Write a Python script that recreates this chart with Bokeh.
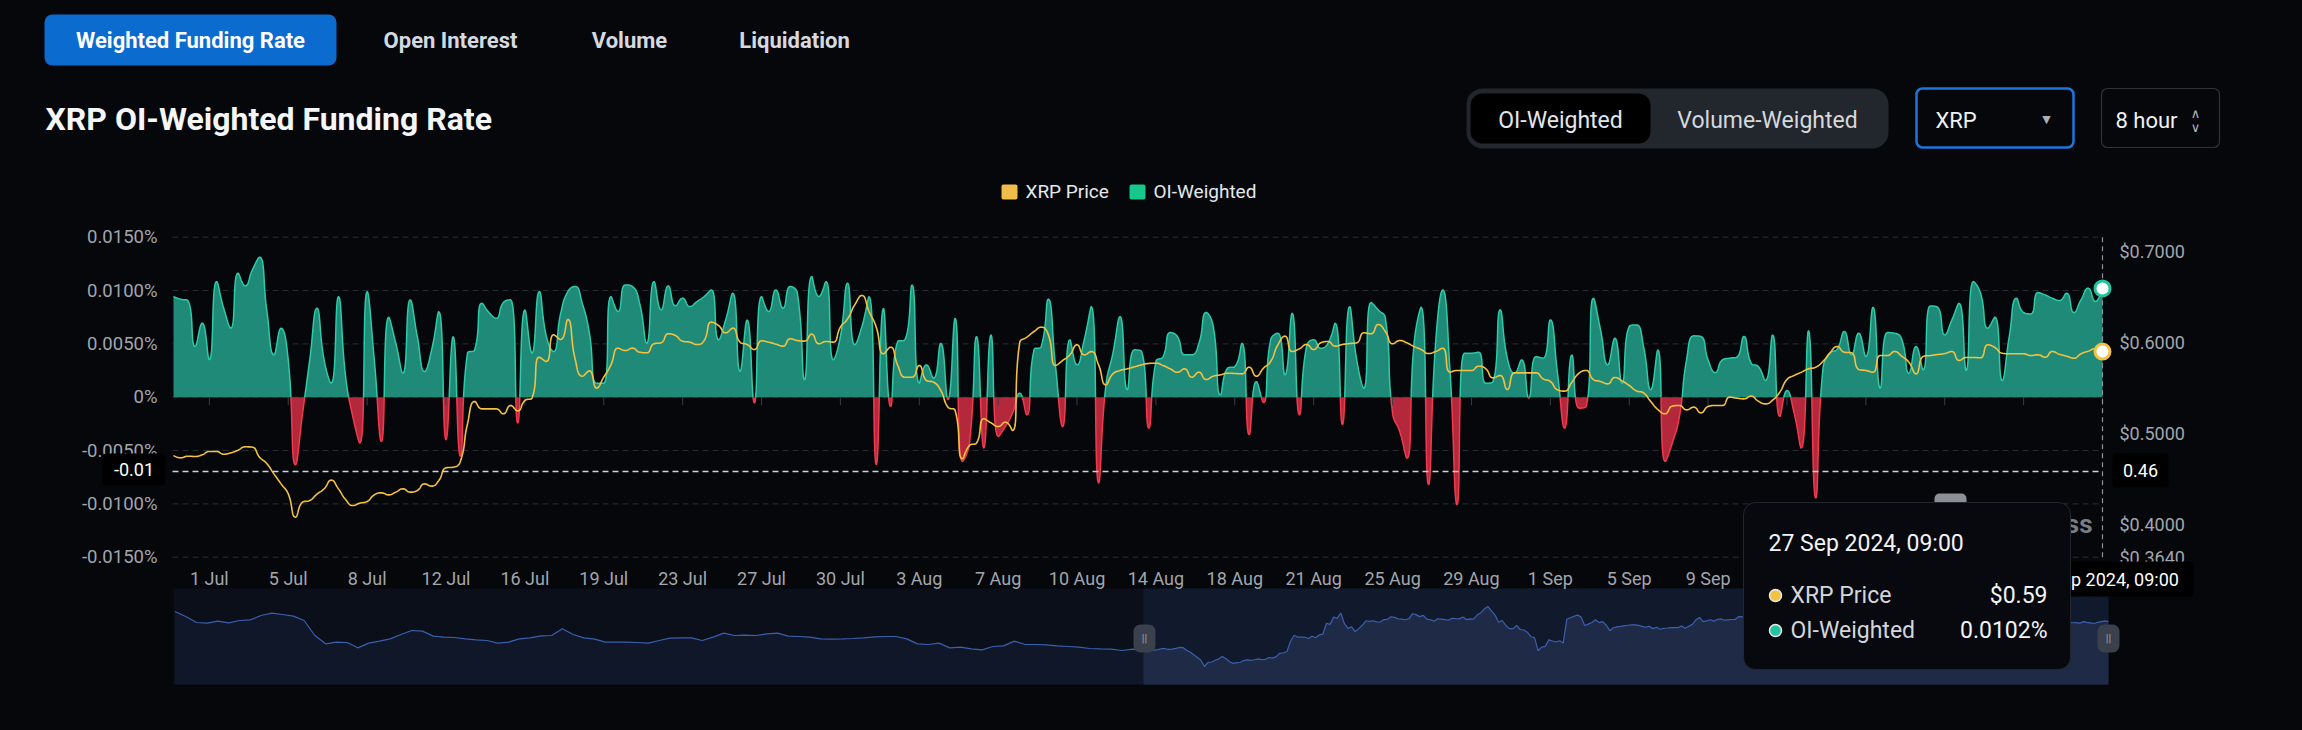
import math
from datetime import datetime, timedelta
import numpy as np
from bokeh.plotting import figure
from bokeh.models import (Range1d, LinearAxis, FixedTicker, Label, BoxAnnotation,
                          GlobalInlineStyleSheet)
from bokeh.embed import file_html
from bokeh.resources import INLINE

# ---------------- data ----------------
start_time = datetime(2024, 6, 29, 17, 0)
step_hours = 8

funding_rate = [
    0.00944, 0.00919, 0.00906, 0.00475, 0.00694, 0.00350, 0.01084, 0.00834, 0.00647, 0.01163,
    0.01044, 0.01194, 0.01313, 0.00819, 0.00397, 0.00647, 0.00350, -0.00634, -0.00150, 0.00350,
    0.00834, 0.00350, 0.00131, 0.00944, 0.00194, -0.00181, -0.00431, 0.00991, 0.00350, -0.00416,
    0.00750, 0.00506, 0.00225, 0.00913, 0.00569, 0.00241, 0.00444, 0.00803, -0.00400, 0.00569,
    -0.00556, 0.00413, 0.00444, 0.00881, 0.00794, 0.00741, 0.00888, 0.00913, -0.00244, 0.00819,
    0.00413, 0.00991, 0.00569, 0.00428, 0.00788, 0.00991, 0.01038, 0.00881, 0.00600, 0.00131,
    0.00131, 0.00944, 0.00803, 0.01053, 0.01038, 0.00881, 0.00506, 0.01084, 0.00819, 0.01044,
    0.00856, 0.00928, 0.00850, 0.00897, 0.00944, 0.01006, 0.00538, 0.00725, 0.00975, 0.00241,
    0.00725, -0.00056, 0.00944, 0.00803, 0.01006, 0.00834, 0.01038, 0.00975, 0.00163, 0.01131,
    0.00944, 0.01084, 0.00350, 0.00569, 0.01069, 0.00491, 0.00663, 0.00944, -0.00634, 0.00834,
    -0.00088, 0.00522, 0.00538, 0.01053, 0.00131, 0.00303, 0.00178, 0.00506, -0.00025, 0.00741,
    -0.00603, -0.00431, 0.00569, -0.00478, 0.00584, -0.00369, -0.00275, -0.00150, 0.00038, -0.00166,
    0.00444, 0.00475, 0.00919, 0.00288, -0.00275, 0.00538, 0.00303, 0.00538, 0.00850, -0.00806,
    0.00100, 0.00413, 0.00756, 0.00069, 0.00444, 0.00428, -0.00291, 0.00334, 0.00381, 0.00606,
    0.00569, 0.00397, 0.00397, 0.00506, 0.00794, 0.00663, 0.00022, 0.00272, 0.00288, 0.00506,
    -0.00353, 0.00147, -0.00050, 0.00538, 0.00600, 0.00209, 0.00788, -0.00166, 0.00475, 0.00538,
    0.00459, 0.00506, 0.00694, -0.00259, 0.00850, 0.00350, 0.00084, 0.00888, 0.00819, 0.00741,
    -0.00150, -0.00322, -0.00572, 0.00506, 0.00844, -0.00822, 0.00506, 0.01006, 0.00256, -0.01009,
    0.00413, 0.00413, 0.00422, 0.00131, 0.00147, 0.00819, 0.00366, 0.00225, 0.00350, -0.00009,
    0.00381, 0.00366, 0.00725, 0.00225, -0.00291, 0.00397, -0.00103, -0.00088, 0.00928, 0.00631,
    0.00303, 0.00553, 0.00131, 0.00663, 0.00678, 0.00475, 0.00069, 0.00444, -0.00603, -0.00431,
    -0.00181, 0.00350, 0.00575, 0.00569, 0.00350, 0.00231, 0.00350, 0.00366, 0.00375, 0.00569,
    0.00319, 0.00288, 0.00156, 0.00584, -0.00181, 0.00063, -0.00150, -0.00478, 0.00625, -0.00947,
    0.00256, 0.00413, 0.00450, 0.00616, 0.00397, 0.00600, 0.00381, 0.00844, 0.00084, 0.00606,
    0.00600, 0.00544, 0.00225, 0.00475, 0.00256, 0.00856, 0.00844, 0.00584, 0.00725, 0.00881,
    0.00250, 0.01084, 0.00975, 0.00647, 0.00750, 0.00156, 0.00569, 0.00928, 0.00794, 0.00781,
    0.00981, 0.00959, 0.00928, 0.00906, 0.00975, 0.00794, 0.00913, 0.01022, 0.00897, 0.01020,
]

xrp_price = [
    0.4758, 0.4732, 0.4750, 0.4747, 0.4765, 0.4802, 0.4802, 0.4772, 0.4787, 0.4816,
    0.4853, 0.4849, 0.4739, 0.4670, 0.4556, 0.4446, 0.4336, 0.4080, 0.4245, 0.4263,
    0.4333, 0.4391, 0.4487, 0.4391, 0.4274, 0.4208, 0.4234, 0.4252, 0.4325, 0.4347,
    0.4325, 0.4355, 0.4391, 0.4355, 0.4373, 0.4446, 0.4421, 0.4483, 0.4622, 0.4629,
    0.4692, 0.5106, 0.5351, 0.5270, 0.5270, 0.5270, 0.5216, 0.5307, 0.5248, 0.5362,
    0.5391, 0.5838, 0.5791, 0.6084, 0.6032, 0.6252, 0.5820, 0.5629, 0.5688, 0.5498,
    0.5618, 0.5754, 0.5937, 0.5911, 0.5937, 0.5893, 0.5886, 0.5985, 0.5996, 0.6095,
    0.6076, 0.6014, 0.6003, 0.5977, 0.6021, 0.6223, 0.6186, 0.6106, 0.6157, 0.6003,
    0.5977, 0.5922, 0.6018, 0.6003, 0.5981, 0.5959, 0.6040, 0.6021, 0.6014, 0.6091,
    0.5985, 0.6010, 0.6003, 0.6168, 0.6259, 0.6413, 0.6516, 0.6340, 0.6168, 0.5875,
    0.5948, 0.5747, 0.5618, 0.5618, 0.5747, 0.5582, 0.5563, 0.5472, 0.5289, 0.5252,
    0.4721, 0.4867, 0.4897, 0.5161, 0.5117, 0.5076, 0.5124, 0.5032, 0.5996, 0.6058,
    0.6120, 0.6168, 0.6084, 0.5747, 0.5802, 0.5864, 0.5974, 0.5864, 0.5900, 0.5754,
    0.5534, 0.5655, 0.5692, 0.5710, 0.5732, 0.5754, 0.5769, 0.5772, 0.5747, 0.5710,
    0.5673, 0.5710, 0.5618, 0.5673, 0.5593, 0.5629, 0.5644, 0.5662, 0.5659, 0.5655,
    0.5728, 0.5629, 0.5717, 0.5791, 0.5974, 0.6069, 0.5900, 0.5930, 0.5977, 0.5922,
    0.5996, 0.6010, 0.5959, 0.5977, 0.5988, 0.5996, 0.6106, 0.6095, 0.6197, 0.6120,
    0.5985, 0.6021, 0.5996, 0.5955, 0.5922, 0.5878, 0.5900, 0.5937, 0.5673, 0.5692,
    0.5692, 0.5692, 0.5739, 0.5710, 0.5611, 0.5637, 0.5483, 0.5666, 0.5666, 0.5666,
    0.5666, 0.5600, 0.5571, 0.5479, 0.5465, 0.5563, 0.5662, 0.5692, 0.5593, 0.5571,
    0.5545, 0.5615, 0.5578, 0.5527, 0.5468, 0.5446, 0.5351, 0.5263, 0.5216, 0.5300,
    0.5307, 0.5259, 0.5289, 0.5226, 0.5296, 0.5307, 0.5307, 0.5399, 0.5388, 0.5380,
    0.5410, 0.5355, 0.5325, 0.5366, 0.5454, 0.5593, 0.5637, 0.5673, 0.5710, 0.5728,
    0.5791, 0.5886, 0.5955, 0.5893, 0.5886, 0.5703, 0.5692, 0.5673, 0.5856, 0.5856,
    0.5900, 0.5849, 0.5783, 0.5655, 0.5846, 0.5856, 0.5867, 0.5878, 0.5900, 0.5802,
    0.5835, 0.5835, 0.5831, 0.5974, 0.5944, 0.5882, 0.5875, 0.5875, 0.5875, 0.5856,
    0.5864, 0.5838, 0.5900, 0.5871, 0.5849, 0.5827, 0.5875, 0.5904, 0.5930, 0.5900,
]

# daily XRP price before the zoom window (navigator / data-zoom shadow)
history_price = [
    0.6313, 0.6110, 0.5866, 0.5839, 0.5921, 0.5853, 0.5948, 0.5975, 0.6151, 0.6245,
    0.6191, 0.6124, 0.5948, 0.5339, 0.5000, 0.5068, 0.5054, 0.4838, 0.5027, 0.5109,
    0.5203, 0.5379, 0.5542, 0.5515, 0.5312, 0.5271, 0.5257, 0.5203, 0.5163, 0.5136,
    0.5027, 0.5068, 0.5203, 0.5244, 0.5325, 0.5339, 0.5609, 0.5379, 0.5244, 0.5190,
    0.5068, 0.5068, 0.5068, 0.5054, 0.5027, 0.5136, 0.5230, 0.5244, 0.5244, 0.5136,
    0.5271, 0.5433, 0.5339, 0.5352, 0.5339, 0.5406, 0.5433, 0.5312, 0.5298, 0.5271,
    0.5203, 0.5190, 0.5203, 0.5217, 0.5244, 0.5284, 0.5298, 0.5298, 0.5203, 0.5000,
    0.4973, 0.5027, 0.4838, 0.4865, 0.4797, 0.4757, 0.4892, 0.4919, 0.5109, 0.4973,
    0.4973, 0.4960, 0.4919, 0.4892, 0.4865, 0.4811, 0.4797, 0.4784, 0.4730, 0.4784,
]

tick_labels = ["1 Jul", "5 Jul", "8 Jul", "12 Jul", "16 Jul", "19 Jul", "23 Jul", "27 Jul",
               "30 Jul", "3 Aug", "7 Aug", "10 Aug", "14 Aug", "18 Aug", "21 Aug", "25 Aug",
               "29 Aug", "1 Sep", "5 Sep", "9 Sep"]
tick_first, tick_every, tick_count = 5, 11, 25

funding_ticks = [-0.015, -0.01, -0.005, 0.0, 0.005, 0.01, 0.015]
funding_tick_labels = ["-0.0150%", "-0.0100%", "-0.0050%", "0%", "0.0050%", "0.0100%", "0.0150%"]
price_ticks = [0.364, 0.4, 0.5, 0.6, 0.7]
price_tick_labels = ["$0.3640", "$0.4000", "$0.5000", "$0.6000", "$0.7000"]

pointer_funding = -0.00697  # horizontal crosshair position

# ---------------- styling / geometry ----------------
FONT = "Roboto"
BG = "#05070b"
TEAL_FILL = "#1f8a77"
TEAL_LINE = "#2dcba7"
RED_FILL = "#b3283a"
RED_LINE = "#f2394f"
YELLOW = "#f4c141"
GRID = "#2a2d33"
TICK_TXT = "#a2a6ad"

W, H = 2302, 730
n = len(funding_rate)
idx = np.arange(n)
times = [start_time + timedelta(hours=step_hours * i) for i in range(n)]

X0 = 173.0                       # px of first sample
ppi = (2102.0 - X0) / (n - 1)    # px per sample
Y_TOP, Y_BOT = 236.7, 556.7      # px of +0.015 / -0.015
ppf = (Y_BOT - Y_TOP) / 0.03     # px per funding-% unit
ppp = 910.0                      # px per $ on price axis
mini_ppp, mini_ref_p, mini_ref_y = 246.3, 0.408, 666.0
mini_pph, mini_x0 = 0.4484, 1143.0
mini_base = mini_ref_p - (684.0 - mini_ref_y) / mini_ppp

p = figure(width=W, height=H, output_backend="svg", toolbar_location=None,
           x_range=Range1d(-X0 / ppi, (W - X0) / ppi),
           y_range=Range1d(funding_ticks[-1] - (H - Y_TOP) / ppf, funding_ticks[-1] + Y_TOP / ppf),
           min_border=0, min_border_left=0, min_border_right=0, min_border_top=0,
           min_border_bottom=0, background_fill_color=BG, border_fill_color=BG,
           outline_line_color=None)
p.stylesheets = [GlobalInlineStyleSheet(css="html, body { background-color: %s; }" % BG)]

p.extra_y_ranges = {
    "price": Range1d(price_ticks[0] - (H - Y_BOT) / ppp, price_ticks[0] + Y_BOT / ppp),
    "mini": Range1d(mini_ref_p - (H - mini_ref_y) / mini_ppp, mini_ref_p + mini_ref_y / mini_ppp),
    "px": Range1d(H, 0),
}
p.extra_x_ranges = {
    "mini": Range1d(-mini_x0 / mini_pph, (W - mini_x0) / mini_pph),
    "px": Range1d(0, W),
}
x_left_edge = (172.0 - X0) / ppi


def style_axis(ax, standoff):
    ax.axis_line_color = None
    ax.major_tick_line_color = None
    ax.minor_tick_line_color = None
    ax.major_tick_out = 0
    ax.major_tick_in = 0
    ax.minor_tick_out = 0
    ax.minor_tick_in = 0
    ax.major_label_standoff = standoff
    ax.major_label_text_color = TICK_TXT
    ax.major_label_text_font = FONT
    ax.major_label_text_font_size = "18.5px"


# left axis
yl = p.yaxis[0]
yl.ticker = FixedTicker(ticks=funding_ticks)
yl.major_label_overrides = dict(zip(funding_ticks, funding_tick_labels))
yl.fixed_location = x_left_edge
style_axis(yl, 15)

# right axis (price)
yr = LinearAxis(y_range_name="price", ticker=FixedTicker(ticks=price_ticks),
                major_label_overrides=dict(zip(price_ticks, price_tick_labels)))
yr.fixed_location = float(idx[-1])
style_axis(yr, 17)
yr.major_label_text_font_size = "18px"
p.add_layout(yr, "right")

# bottom axis with category-like labels
label_pos = [tick_first + tick_every * k for k in range(len(tick_labels))]
xa = p.xaxis[0]
xa.ticker = FixedTicker(ticks=label_pos)
xa.major_label_overrides = dict(zip(label_pos, tick_labels))
xa.fixed_location = funding_ticks[0]
style_axis(xa, 11)
xa.major_label_text_font_size = "18px"

p.xgrid.visible = False
p.ygrid.visible = False

# grid lines of the main panel
p.segment(x0=x_left_edge, y0=funding_ticks, x1=float(idx[-1]), y1=funding_ticks,
          line_color=GRID, line_dash="6 4", line_width=1)


# ---------------- helpers ----------------
def smooth_curve(xs, ys, kx, ky, smooth=0.5, nseg=14):
    X = np.asarray(xs, float) * kx
    Y = np.asarray(ys, float) * ky
    N = len(X)
    ox, oy = [X[0]], [Y[0]]
    c0x, c0y = X[0], Y[0]
    tt = np.linspace(0, 1, nseg + 1)[1:]
    a = 1 - tt
    for i in range(1, N):
        x, y = X[i], Y[i]
        px_, py_ = X[i - 1], Y[i - 1]
        if i == N - 1:
            c1x, c1y = x, y
            n0x, n0y = x, y
        else:
            nx, ny = X[i + 1], Y[i + 1]
            vx, vy = nx - px_, ny - py_
            d0 = math.hypot(x - px_, y - py_)
            d1 = math.hypot(nx - x, ny - y)
            r = d1 / (d0 + d1)
            n0x = x + vx * smooth * r
            n0y = y + vy * smooth * r
            n0x = min(max(n0x, min(nx, x)), max(nx, x))
            n0y = min(max(n0y, min(ny, y)), max(ny, y))
            vx, vy = n0x - x, n0y - y
            c1x = x - vx * d0 / d1
            c1y = y - vy * d0 / d1
            c1x = min(max(c1x, min(px_, x)), max(px_, x))
            c1y = min(max(c1y, min(py_, y)), max(py_, y))
            vx, vy = x - c1x, y - c1y
            n0x = x + vx * d1 / d0
            n0y = y + vy * d1 / d0
        bx = a ** 3 * px_ + 3 * a ** 2 * tt * c0x + 3 * a * tt ** 2 * c1x + tt ** 3 * x
        by = a ** 3 * py_ + 3 * a ** 2 * tt * c0y + 3 * a * tt ** 2 * c1y + tt ** 3 * y
        ox.extend(bx)
        oy.extend(by)
        c0x, c0y = n0x, n0y
    return np.array(ox) / kx, np.array(oy) / ky


def lab(x, y, text, size=18, color="#e6e8eb", bold=False, align="left",
        baseline="middle", font=FONT, level="annotation"):
    p.add_layout(Label(x=x, y=y, x_range_name="px", y_range_name="px", text=text,
                       text_font=font, text_font_size="%spx" % size, text_color=color,
                       text_font_style="bold" if bold else "normal", text_align=align,
                       text_baseline=baseline, level=level))


def box(x0, y0, x1, y1, fill, line=None, lw=1, radius=0, level="annotation", alpha=1.0):
    p.add_layout(BoxAnnotation(left=x0, right=x1, top=y0, bottom=y1, x_range_name="px",
                               y_range_name="px", fill_color=fill, fill_alpha=alpha,
                               line_color=line, line_alpha=1.0, line_width=lw,
                               border_radius=radius, level=level))


# ---------------- navigator (data zoom) ----------------
box(173, 588, 2108, 684, "#0a0f1a", level="underlay")
box(1143, 588, 2108, 684, "#111a2d", level="underlay")
t_main = idx * step_hours
t_hist = np.array([-24 * (len(history_price) - k) for k in range(len(history_price))])
hx = np.append(t_hist, t_main[0])
hy = np.append(history_price, xrp_price[0])
p.varea(x=hx, y1=mini_base, y2=hy, x_range_name="mini", y_range_name="mini",
        fill_color="#0f1728")
p.varea(x=t_main, y1=mini_base, y2=xrp_price, x_range_name="mini", y_range_name="mini",
        fill_color="#1e2a46")
p.line(np.concatenate([t_hist, t_main]), np.concatenate([history_price, xrp_price]),
       x_range_name="mini", y_range_name="mini", line_color="#3c5fae", line_width=1.2)

# ---------------- funding area (split at zero) ----------------
fx, fy = smooth_curve(idx, funding_rate, ppi, ppf)
X2, Y2 = [fx[0]], [fy[0]]
for j in range(1, len(fx)):
    if fy[j - 1] * fy[j] < 0:
        t = fy[j - 1] / (fy[j - 1] - fy[j])
        X2.append(fx[j - 1] + t * (fx[j] - fx[j - 1]))
        Y2.append(0.0)
    X2.append(fx[j])
    Y2.append(fy[j])
X2 = np.array(X2)
Y2 = np.array(Y2)
p.varea(x=X2, y1=0, y2=np.maximum(Y2, 0), fill_color=TEAL_FILL)
p.varea(x=X2, y1=0, y2=np.minimum(Y2, 0), fill_color=RED_FILL)
p.line(X2, np.where(Y2 >= 0, Y2, np.nan), line_color=TEAL_LINE, line_width=1.5)
p.line(X2, np.where(Y2 <= 0, Y2, np.nan), line_color=RED_LINE, line_width=1.5)

# axis ticks on the zero line
tick_all = [tick_first + tick_every * k for k in range(tick_count)]
p.segment(x0=tick_all, y0=0, x1=tick_all, y1=-8.0 / ppf, line_color="#3b3e45", line_width=1)

# ---------------- price line ----------------
sx, sy = smooth_curve(idx, xrp_price, ppi, ppp)
p.line(sx, sy, y_range_name="price", line_color=YELLOW, line_width=1.6)

# ---------------- axis pointer ----------------
last = n - 1
p.segment(x0=x_left_edge, y0=pointer_funding, x1=float(idx[last]), y1=pointer_funding,
          line_color="#cfd2d8", line_dash="6 4", line_width=1.5)
p.segment(x0=[idx[last]], y0=[funding_ticks[-1]], x1=[idx[last]],
          y1=[funding_ticks[0] - 0.0002], line_color="#8e9299", line_dash="5 4", line_width=1.2)
p.scatter([idx[last]], [funding_rate[last]], size=15, marker="circle", fill_color="white",
          line_color="#22c39f", line_width=3)
p.scatter([idx[last]], [xrp_price[last]], size=15, marker="circle", fill_color="white",
          line_color=YELLOW, line_width=3, y_range_name="price")

# watermark (mostly hidden by the tooltip)
box(1934, 493, 1966, 508, "#8c8f95", radius=5)
lab(2092, 523, "CoinGlass", size=26, color="#7a7d84", bold=True, align="right",
    baseline="alphabetic")

# ---------------- header ----------------
box(44, 14, 336, 65, "#0b6bcf", radius=8)
lab(190, 40, "Weighted Funding Rate", size=22, color="#ffffff", bold=True, align="center")
lab(450, 40, "Open Interest", size=22, color="#d6dae0", bold=True, align="center")
lab(629, 40, "Volume", size=22, color="#d6dae0", bold=True, align="center")
lab(794, 40, "Liquidation", size=22, color="#d6dae0", bold=True, align="center")
lab(45, 118, "XRP OI-Weighted Funding Rate", size=32, color="#f5f6f8", bold=True)

box(1466, 88, 1888, 148, "#22262d", radius=16)
box(1470, 93, 1650, 143, "#000000", radius=12)
lab(1560, 120, "OI-Weighted", size=23, color="#e4e6ea", align="center")
lab(1767, 120, "Volume-Weighted", size=23, color="#d5d8dd", align="center")

box(1916, 88, 2073, 147, BG, line="#1c76de", lw=2.5, radius=6)
lab(1935, 120, "XRP", size=22, color="#f0f2f4")
lab(2046, 119, "\u25bc", size=11, color="#aab0b8", align="center", font="DejaVu Sans")
box(2101, 88, 2219, 147, BG, line="#2e323a", lw=1.2, radius=6)
lab(2115, 120, "8 hour", size=22, color="#f0f2f4")
lab(2195, 113, "\u2227", size=13, color="#b4b9c0", align="center", font="DejaVu Sans")
lab(2195, 127, "\u2228", size=13, color="#b4b9c0", align="center", font="DejaVu Sans")

# legend
box(1001, 184, 1017, 199, "#f0bd4a", radius=2)
lab(1025, 191, "XRP Price", size=19, color="#e6e8eb")
box(1129, 184, 1145, 199, "#17c78b", radius=2)
lab(1153, 191, "OI-Weighted", size=19, color="#e6e8eb")

# ---------------- pointer labels ----------------
pointer_price = price_ticks[0] + (Y_BOT - (Y_TOP + (funding_ticks[-1] - pointer_funding) * ppf)) / ppp
box(102, 453, 165, 485, "#000000", radius=4, level="overlay")
lab(133.5, 469, "%.2f" % pointer_funding, size=18, color="#ffffff", align="center",
    level="overlay")
box(2112, 453, 2168, 487, "#000000", radius=4, level="overlay")
lab(2140, 470, "%.2f" % pointer_price, size=18, color="#ffffff", align="center",
    level="overlay")
stamp = "%d %s" % (times[last].day, times[last].strftime("%b %Y, %H:%M"))
box(2011, 561, 2193, 596, "#000000", radius=4, level="overlay")
lab(2102, 579, stamp, size=18, color="#ffffff", align="center", level="overlay")

# navigator handles
for hcx in (1144, 2108):
    box(hcx - 11, 624, hcx + 11, 652, "#3a404c", radius=7, level="overlay")
    lab(hcx, 638, "||", size=11, color="#9aa0ab", align="center", level="overlay")

# ---------------- tooltip ----------------
box(1743, 502, 2070, 669, "#07090e", line="#23262d", lw=1, radius=12, level="overlay")
lab(1768, 543, stamp, size=23, color="#f2f3f5", level="overlay")
box(1769, 589, 1781, 601, YELLOW, line="#e9e9e9", lw=1.5, radius=6, level="overlay")
lab(1790, 595, "XRP Price", size=23, color="#d3d6db", level="overlay")
lab(2047, 595, "$%.2f" % xrp_price[last], size=23, color="#f2f3f5", align="right",
    level="overlay")
box(1769, 624, 1781, 636, "#22c39f", line="#e9e9e9", lw=1.5, radius=6, level="overlay")
lab(1790, 630, "OI-Weighted", size=23, color="#d3d6db", level="overlay")
lab(2047, 630, "%.4f%%" % funding_rate[last], size=23, color="#f2f3f5", align="right",
    level="overlay")

open("out.html", "w").write(file_html(p, INLINE))
